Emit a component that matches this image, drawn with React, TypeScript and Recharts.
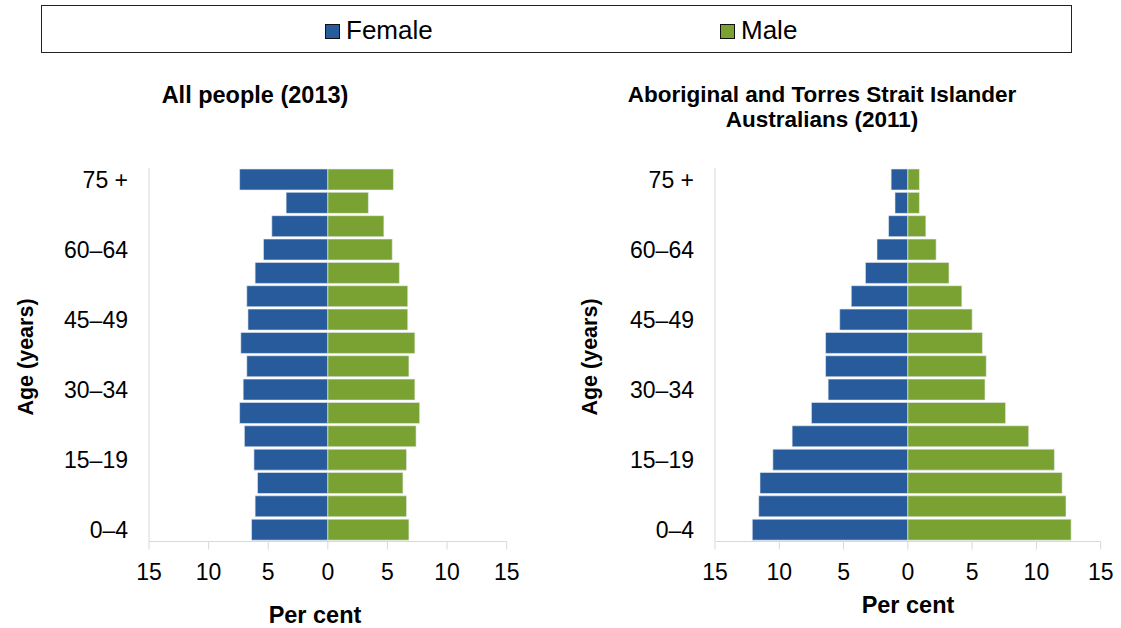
import React from "react";
import {Bar, BarChart, XAxis, YAxis} from "recharts";

// age groups, youngest first (drawn bottom-up)
const ages = ["0–4", "5–9", "10–14", "15–19", "20–24", "25–29", "30–34", "35–39",
    "40–44", "45–49", "50–54", "55–59", "60–64", "65–69", "70–74", "75 +"];

// per cent of population
const allFemale = [6.4, 6.1, 5.9, 6.2, 7.0, 7.4, 7.1, 6.8, 7.3, 6.7, 6.8, 6.1, 5.4, 4.7, 3.5, 7.4];
const allMale = [6.8, 6.6, 6.3, 6.6, 7.4, 7.7, 7.3, 6.8, 7.3, 6.7, 6.7, 6.0, 5.4, 4.7, 3.4, 5.5];
const indFemale = [12.1, 11.6, 11.5, 10.5, 9.0, 7.5, 6.2, 6.4, 6.4, 5.3, 4.4, 3.3, 2.4, 1.5, 1.0, 1.3];
const indMale = [12.7, 12.3, 12.0, 11.4, 9.4, 7.6, 6.0, 6.1, 5.8, 5.0, 4.2, 3.2, 2.2, 1.4, 0.9, 0.9];

const xTicks = [-15, -10, -5, 0, 5, 10, 15];
const seriesNames = ["Female", "Male"];
const seriesColors = ["#285B9B", "#7AA232"];

const FONT = "'Liberation Sans', Arial, sans-serif";
const AXIS = "#d9d9d9";

function buildRows(female: number[], male: number[]) {
    return ages.map((age, i) => ({age, Female: -female[i], Male: male[i]}));
}

function Pyramid({rows, width, yWidth, right}: {rows: any[]; width: number; yWidth: number; right: number}) {
    return (
        <BarChart
            width={width}
            height={628}
            data={rows}
            layout="vertical"
            stackOffset="sign"
            margin={{top: 168, right: right, left: 0, bottom: 46.5}}
        >
            <XAxis
                type="number"
                domain={[-15, 15]}
                ticks={xTicks}
                interval={0}
                tickFormatter={(v) => String(Math.abs(v))}
                tick={{fill: "#000", fontSize: 23}}
                tickSize={8}
                tickMargin={14}
                stroke={AXIS}
                height={40}
            />
            <YAxis
                type="category"
                dataKey="age"
                reversed
                interval={2}
                width={yWidth}
                tickLine={false}
                tickSize={0}
                tickMargin={21}
                tick={{fill: "#000", fontSize: 23}}
                stroke={AXIS}
            />
            {seriesNames.map((name, i) => (
                <Bar key={name} dataKey={name} stackId="a" fill={seriesColors[i]} barSize={21}
                     stroke="#e8edf3" strokeWidth={0.6} isAnimationActive={false}/>
            ))}
        </BarChart>
    );
}

export default function App() {
    const legendX = [325, 720];
    return (
        <div style={{position: "fixed", left: 0, top: 0, width: 1121, height: 628, background: "#fff", fontFamily: FONT}}>
            <div style={{position: "absolute", left: 0, top: 0}}>
                <Pyramid rows={buildRows(allFemale, allMale)} width={560} yWidth={149} right={53.3}/>
            </div>
            <div style={{position: "absolute", left: 560, top: 0}}>
                <Pyramid rows={buildRows(indFemale, indMale)} width={561} yWidth={155} right={20.3}/>
            </div>
            <svg width={1121} height={628} style={{position: "absolute", left: 0, top: 0, pointerEvents: "none"}}
                 fontFamily={FONT}>
                <rect x={41.5} y={5.5} width={1030} height={47} fill="none" stroke="#222" strokeWidth={1}/>
                {seriesNames.map((name, i) => (
                    <g key={name}>
                        <rect x={legendX[i] + 0.5} y={24.5} width={14} height={14} fill={seriesColors[i]} stroke="#111"/>
                        <text x={legendX[i] + 21} y={39} fontSize={26} fill="#000">{name}</text>
                    </g>
                ))}
                <text x={255} y={103} fontSize={23.5} fontWeight="bold" textAnchor="middle">All people (2013)</text>
                <text x={822} y={102} fontSize={22.5} fontWeight="bold" textAnchor="middle">Aboriginal and Torres Strait Islander</text>
                <text x={822} y={127} fontSize={22.5} fontWeight="bold" textAnchor="middle">Australians (2011)</text>
                <text x={315} y={623} fontSize={23.5} fontWeight="bold" textAnchor="middle">Per cent</text>
                <text x={908} y={613} fontSize={23.5} fontWeight="bold" textAnchor="middle">Per cent</text>
                <text x={25} y={357} dy="0.35em" fontSize={21.5} fontWeight="bold" textAnchor="middle"
                      transform="rotate(-90 25 357)">Age (years)</text>
                <text x={589} y={357} dy="0.35em" fontSize={21.5} fontWeight="bold" textAnchor="middle"
                      transform="rotate(-90 589 357)">Age (years)</text>
            </svg>
        </div>
    );
}
